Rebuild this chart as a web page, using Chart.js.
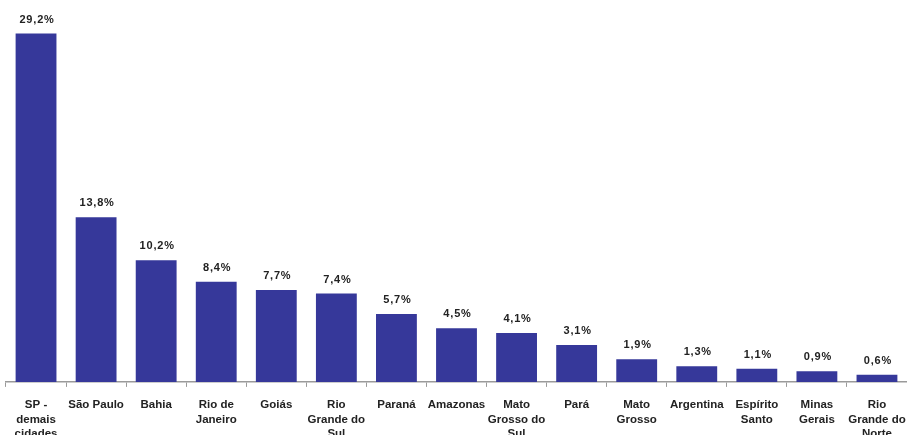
<!DOCTYPE html>
<html>
<head>
<meta charset="utf-8">
<script src="https://cdn.jsdelivr.net/npm/chart.js@4.4.0/dist/chart.umd.min.js"></script>
<style>
html,body{margin:0;padding:0;background:#fff;overflow:hidden;}
#wrap{width:907px;height:435px;overflow:hidden;position:relative;}
#c{position:absolute;left:0;top:0;}
</style>
</head>
<body>
<div id="wrap"><canvas id="c" width="912" height="464"></canvas></div>
<script>
const categories = [
  ["SP -","demais","cidades"],
  ["São Paulo"],
  ["Bahia"],
  ["Rio de","Janeiro"],
  ["Goiás"],
  ["Rio","Grande do","Sul"],
  ["Paraná"],
  ["Amazonas"],
  ["Mato","Grosso do","Sul"],
  ["Pará"],
  ["Mato","Grosso"],
  ["Argentina"],
  ["Espírito","Santo"],
  ["Minas","Gerais"],
  ["Rio","Grande do","Norte"]
];
const values = [29.2, 13.8, 10.2, 8.4, 7.7, 7.4, 5.7, 4.5, 4.1, 3.1, 1.9, 1.3, 1.1, 0.9, 0.6];
const valueLabels = ["29,2%","13,8%","10,2%","8,4%","7,7%","7,4%","5,7%","4,5%","4,1%","3,1%","1,9%","1,3%","1,1%","0,9%","0,6%"];

const labelPlugin = {
  id: 'valueLabels',
  afterDatasetsDraw(chart) {
    const ctx = chart.ctx;
    const meta = chart.getDatasetMeta(0);
    ctx.save();
    ctx.font = 'bold 11px "Liberation Sans", Arial, sans-serif';
    try { ctx.letterSpacing = '0.8px'; } catch(e) {}
    ctx.fillStyle = '#222';
    ctx.textAlign = 'center';
    ctx.textBaseline = 'alphabetic';
    meta.data.forEach((bar, i) => {
      ctx.fillText(valueLabels[i], bar.x + 1, bar.y - 11);
    });
    ctx.restore();
  }
};

new Chart(document.getElementById('c'), {
  type: 'bar',
  data: {
    labels: categories,
    datasets: [{
      data: values,
      backgroundColor: '#36389A',
      borderWidth: 0,
      barPercentage: 0.68,
      categoryPercentage: 1.0
    }]
  },
  options: {
    responsive: false,
    maintainAspectRatio: false,
    animation: false,
    devicePixelRatio: 1,
    layout: { padding: { left: 6, right: 5, top: 24, bottom: 12 } },
    plugins: { legend: { display: false }, tooltip: { enabled: false } },
    scales: {
      x: {
        afterFit(scale) { scale.paddingLeft = 0; scale.paddingRight = 0; },
        grid: { offset: true, drawOnChartArea: false, tickLength: 5, color: '#9a9a9a', tickWidth: 1 },
        border: { display: true, color: '#9a9a9a', width: 1.5 },
        ticks: {
          color: '#222',
          padding: 11,
          maxRotation: 0,
          autoSkip: false,
          font: { family: '"Liberation Sans", Arial, sans-serif', size: 11.5, weight: 'bold', lineHeight: 1.25 }
        }
      },
      y: { display: false, min: 0, max: 30 }
    }
  },
  plugins: [labelPlugin]
});
</script>
</body>
</html>
